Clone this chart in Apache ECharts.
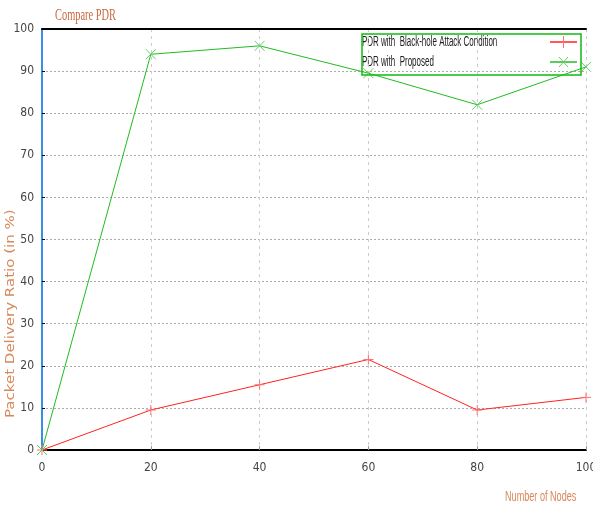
<!DOCTYPE html>
<html>
<head>
<meta charset="utf-8">
<script src="https://cdn.jsdelivr.net/npm/echarts@6/dist/echarts.min.js"></script>
<style>
  html, body { margin: 0; padding: 0; background: #fff; }
  #main { width: 593px; height: 511px; }
</style>
</head>
<body>
<div id="main"></div>
<script>
// nodes on x axis
var nodes = [0, 20, 40, 60, 80, 100]
// PDR values (%)
var pdrAttack = [0, 9.5, 15.5, 21.5, 9.5, 12.5]
var pdrProposed = [0, 94, 96, 89.5, 82, 91]
var seriesNames = ['PDR with  Black-hole Attack Condition', 'PDR with  Proposed']
var seriesColors = ['#ff2222', '#22bb22']
var markerColors = ['#ff7070', '#66cc66']
var markerPaths = ['path://M0,5L10,5M5,0L5,10', 'path://M0,0L10,10M10,0L0,10']

var chart = echarts.init(document.getElementById('main'))

function pairs (xs, ys) {
  return xs.map(function (x, i) { return [x, ys[i]] })
}

var narrow = '"DejaVu Sans Condensed", "Liberation Sans", sans-serif'
var labelFont = { color: '#444', fontFamily: narrow, fontSize: 12 }

// legend drawn by hand, the picture uses a very narrow font
var legendBox = { x: 362, y: 34, w: 219, h: 41 }
var legendItems = seriesNames.map(function (name, i) {
  var cy = legendBox.y + 8 + i * 20
  var items = [
    {
      type: 'text', x: legendBox.x, y: cy, scaleX: 0.57,
      style: { text: name, fill: '#222', font: '14px "Liberation Sans"', textVerticalAlign: 'middle' }
    },
    {
      type: 'line',
      shape: { x1: 550, y1: cy, x2: 577, y2: cy },
      style: { stroke: seriesColors[i], lineWidth: 1.5 }
    }
  ]
  if (i === 0) {
    items.push({ type: 'polyline', shape: { points: [[563.5, cy - 6], [563.5, cy + 6]] }, style: { stroke: markerColors[i], lineWidth: 1, fill: null } })
  } else {
    items.push({ type: 'polyline', shape: { points: [[559, cy - 5], [568, cy + 5]] }, style: { stroke: markerColors[i], lineWidth: 1, fill: null } })
    items.push({ type: 'polyline', shape: { points: [[568, cy - 5], [559, cy + 5]] }, style: { stroke: markerColors[i], lineWidth: 1, fill: null } })
  }
  return items
}).reduce(function (a, b) { return a.concat(b) }, [])

var option = {
  animation: false,
  backgroundColor: '#fff',
  grid: { left: 42, right: 7, top: 29, bottom: 61, outerBoundsMode: 'none' },
  graphic: [
    {
      type: 'text', left: 55, top: 8, scaleX: 0.65,
      style: { text: 'Compare PDR', fill: '#c8683f', font: '16px "Liberation Serif"' }
    },
    {
      type: 'text', x: 4, y: 418, rotation: Math.PI / 2, scaleX: 1.2,
      style: { text: 'Packet Delivery Ratio (in %)', fill: '#d8875a', font: '12.5px "DejaVu Sans"', textAlign: 'left', textVerticalAlign: 'top' }
    },
    {
      type: 'text', x: 505, y: 497, scaleX: 0.65,
      style: { text: 'Number of Nodes', fill: '#d8875a', font: '14px "Liberation Sans"', textVerticalAlign: 'middle' }
    },
    {
      type: 'rect', z: 10,
      shape: { x: legendBox.x, y: legendBox.y, width: legendBox.w, height: legendBox.h },
      style: { fill: 'rgba(255,255,255,0)', stroke: '#11bb11', lineWidth: 1.5 }
    },
    { type: 'group', z: 10, children: legendItems }
  ],
  xAxis: [
    {
      type: 'value', min: 0, max: 100, interval: 20,
      axisLine: { lineStyle: { color: '#000', width: 2 } },
      axisTick: { inside: true, length: 4, lineStyle: { color: '#999' } },
      axisLabel: Object.assign({ margin: 12 }, labelFont),
      splitLine: { show: true, lineStyle: { color: '#ccc', type: [3, 4] } }
    },
    {
      type: 'value', min: 0, max: 100, position: 'top',
      axisLine: { show: true, lineStyle: { color: '#000', width: 2 } },
      axisTick: { show: false }, axisLabel: { show: false }, splitLine: { show: false }
    }
  ],
  yAxis: {
    type: 'value', min: 0, max: 100, interval: 10,
    axisLine: { show: true, lineStyle: { color: '#3a8de8', width: 2 } },
    axisTick: { show: true, inside: true, length: 3, lineStyle: { color: '#000' } },
    axisLabel: Object.assign({ margin: 8 }, labelFont),
    splitLine: { show: true, lineStyle: { color: '#aaa', type: [2, 2] } }
  },
  series: seriesNames.map(function (name, i) {
    return {
      name: name,
      type: 'line',
      data: pairs(nodes, i === 0 ? pdrAttack : pdrProposed),
      symbol: markerPaths[i],
      symbolSize: 10,
      showAllSymbol: true,
      lineStyle: { color: seriesColors[i], width: 1 },
      itemStyle: { color: markerColors[i], borderColor: markerColors[i], borderWidth: 1 }
    }
  })
}

chart.setOption(option)
</script>
</body>
</html>
